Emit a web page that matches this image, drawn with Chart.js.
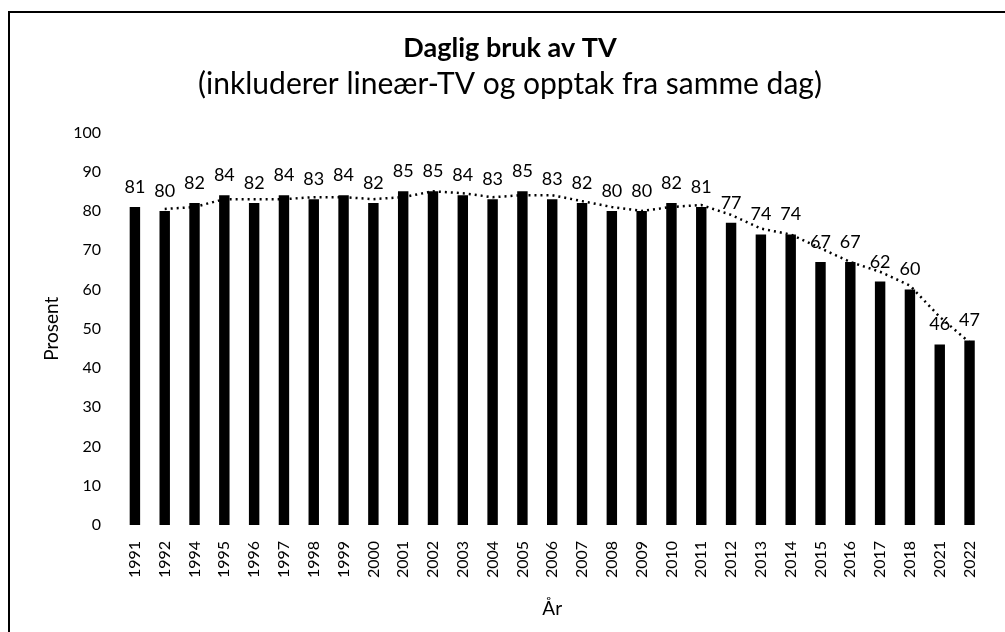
<!DOCTYPE html>
<html>
<head>
<meta charset="utf-8">
<script src="https://cdn.jsdelivr.net/npm/chart.js@4"></script>
<style>
  html, body { margin: 0; padding: 0; background: #fff; overflow: hidden; }
  #frame { position: absolute; left: 8px; top: 11px; width: 1100px; height: 700px; border: 2px solid #000; }
  #chart { position: absolute; left: 0; top: 0; }
</style>
</head>
<body>
<div id="frame"></div>
<canvas id="chart" width="1005" height="632"></canvas>
<script>
// år og daglig bruk av TV (prosent)
const years = ['1991', '1992', '1994', '1995', '1996', '1997', '1998', '1999', '2000', '2001',
               '2002', '2003', '2004', '2005', '2006', '2007', '2008', '2009', '2010', '2011',
               '2012', '2013', '2014', '2015', '2016', '2017', '2018', '2021', '2022'];
const prosent = [81, 80, 82, 84, 82, 84, 83, 84, 82, 85,
                 85, 84, 83, 85, 83, 82, 80, 80, 82, 81,
                 77, 74, 74, 67, 67, 62, 60, 46, 47];
// trendlinje (glidende gjennomsnitt), lest av figuren
const trend = [null, 80.5, 81, 83, 83, 83, 83.5, 83.5, 83, 83.5,
               85, 84.5, 83.5, 84, 84, 82.5, 81, 80, 81, 81.5,
               79, 75.5, 74, 70.5, 67, 64.5, 61, 53, 46.5];
const yTicks = [0, 10, 20, 30, 40, 50, 60, 70, 80, 90, 100];

const FONT = 'Lato, "Open Sans", sans-serif';

// skriver verdiene over søylene
const barLabels = {
    id: 'barLabels',
    afterDatasetsDraw(chart) {
        const ctx = chart.ctx;
        const meta = chart.getDatasetMeta(0);
        ctx.save();
        ctx.font = '18px ' + FONT;
        ctx.fillStyle = '#000';
        ctx.textAlign = 'center';
        ctx.textBaseline = 'alphabetic';
        meta.data.forEach((bar, i) => {
            ctx.fillText(String(prosent[i]), bar.x, bar.y - 14);
        });
        ctx.restore();
    }
};

const ctx = document.getElementById('chart').getContext('2d');
new Chart(ctx, {
    data: {
        labels: years,
        datasets: [{
            type: 'bar',
            data: prosent,
            backgroundColor: '#000',
            categoryPercentage: 1,
            barPercentage: 0.35,
            order: 2
        }, {
            type: 'line',
            data: trend,
            borderColor: '#000',
            borderWidth: 2.5,
            borderDash: [2, 4],
            pointRadius: 0,
            tension: 0,
            spanGaps: false,
            order: 1
        }]
    },
    options: {
        responsive: false,
        animation: false,
        layout: { padding: { left: 30, right: 15, top: 0, bottom: 9 } },
        plugins: {
            legend: { display: false },
            tooltip: { enabled: false },
            title: {
                display: true,
                text: 'Daglig bruk av TV',
                color: '#000',
                font: { family: FONT, size: 27, weight: 'bold' },
                padding: { top: 32, bottom: 2 }
            },
            subtitle: {
                display: true,
                text: '(inkluderer lineær-TV og opptak fra samme dag)',
                color: '#000',
                font: { family: FONT, size: 30 },
                padding: { top: 0, bottom: 30 }
            }
        },
        scales: {
            x: {
                grid: { display: false, drawTicks: false },
                border: { display: false },
                ticks: {
                    color: '#000',
                    font: { family: FONT, size: 16 },
                    minRotation: 90,
                    maxRotation: 90,
                    padding: 16,
                    autoSkip: false
                },
                title: {
                    display: true,
                    text: 'År',
                    color: '#000',
                    font: { family: FONT, size: 19 },
                    padding: { top: 0, bottom: 3 }
                },
                afterFit(scale) { scale.height = 98; }
            },
            y: {
                min: 0,
                max: 100,
                afterBuildTicks(scale) { scale.ticks = yTicks.map(v => ({ value: v })); },
                grid: { display: false, drawTicks: false },
                border: { display: false },
                ticks: {
                    color: '#000',
                    font: { family: FONT, size: 16 },
                    padding: 19
                },
                title: {
                    display: true,
                    text: 'Prosent',
                    color: '#000',
                    font: { family: FONT, size: 19 },
                    padding: { top: 10, bottom: 0 }
                },
                afterFit(scale) { scale.width = 90; }
            }
        }
    },
    plugins: [barLabels]
});
</script>
</body>
</html>
